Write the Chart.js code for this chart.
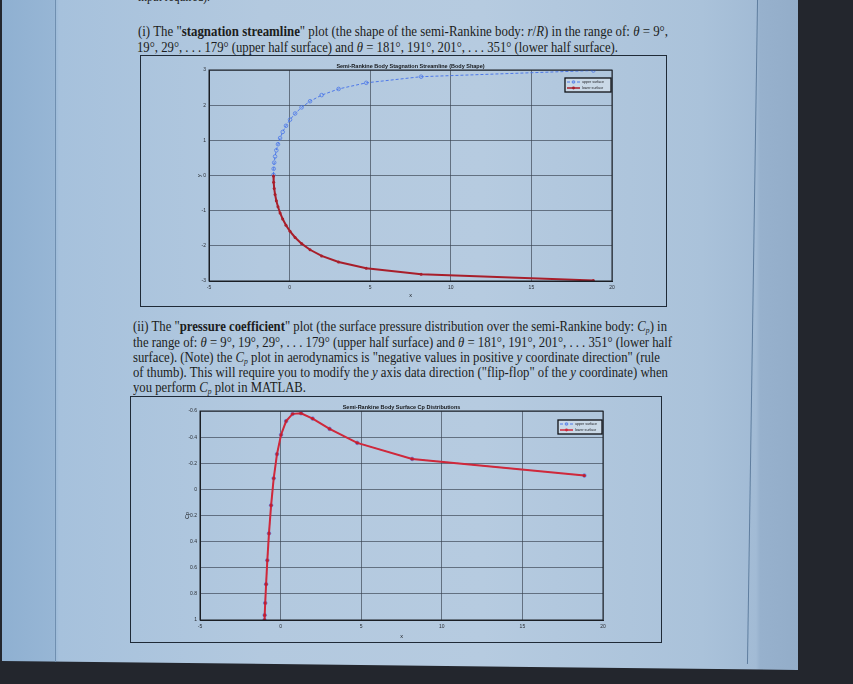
<!DOCTYPE html>
<html><head><meta charset="utf-8">
<script src="https://cdn.jsdelivr.net/npm/chart.js@4.4.1/dist/chart.umd.min.js"></script>
<style>
html,body{margin:0;padding:0;width:853px;height:684px;overflow:hidden;background:#23262d;}
#page{position:absolute;left:2px;top:0;width:796px;height:672px;
 background:linear-gradient(90deg,#8fb0d1 0px,#97b6d5 52px,#a6c1dc 57px,#b3c9df 260px,#b6cbe0 480px,#aac2da 700px,#a2bbd5 754px,#97b1cd 758px,#93adc9 796px);
 clip-path:polygon(0 0,796px 0,796px 670px,0 661px);}
#vl1{position:absolute;left:55px;top:0;width:1px;height:662px;background:#6f8fb0;}
#vl2{position:absolute;left:752px;top:0;width:1px;height:664px;background:#5f7e9f;transform:rotate(0.87deg);}
.ln{position:absolute;white-space:nowrap;font-family:"Liberation Serif","Times New Roman",serif;font-size:15px;line-height:18px;color:#1c1d20;transform-origin:left center;}
.ln sub{font-size:9px;vertical-align:-2px;line-height:0;}
.frame{position:absolute;border:1.5px solid #1f2a37;box-sizing:border-box;}
canvas{position:absolute;}
</style></head><body>
<div id="page"></div>
<div id="vl1"></div><div id="vl2"></div>
<div class="ln" style="left:138px;top:-13px;" data-w="72">input required).</div>
<div class="ln" style="left:138px;top:22px;" data-w="530">(i) The "<b>stagnation streamline</b>" plot (the shape of the semi-Rankine body: <i>r</i>/<i>R</i>) in the range of: <i>θ</i> = 9°,</div>
<div class="ln" style="left:137px;top:38px;" data-w="481">19°, 29°, . . . 179° (upper half surface) and <i>θ</i> = 181°, 191°, 201°, . . . 351° (lower half surface).</div>
<div class="ln" style="left:133px;top:317px;" data-w="534">(ii) The "<b>pressure coefficient</b>" plot (the surface pressure distribution over the semi-Rankine body: <i>C<sub>p</sub></i>) in</div>
<div class="ln" style="left:133px;top:333px;" data-w="539">the range of: <i>θ</i> = 9°, 19°, 29°, . . . 179° (upper half surface) and <i>θ</i> = 181°, 191°, 201°, . . . 351° (lower half</div>
<div class="ln" style="left:133px;top:348px;" data-w="527">surface). (Note) the <i>C<sub>p</sub></i> plot in aerodynamics is "negative values in positive <i>y</i> coordinate direction" (rule</div>
<div class="ln" style="left:133px;top:363px;" data-w="535">of thumb). This will require you to modify the <i>y</i> axis data direction ("flip-flop" of the <i>y</i> coordinate) when</div>
<div class="ln" style="left:133px;top:378px;" data-w="173">you perform <i>C<sub>p</sub></i> plot in MATLAB.</div>

<canvas id="c1" width="527" height="252" style="left:140px;top:55px;"></canvas>
<div class="frame" style="left:140px;top:55px;width:527px;height:252px;"></div>
<canvas id="c2" width="532" height="247" style="left:130px;top:396px;"></canvas>
<div class="frame" style="left:130px;top:396px;width:532px;height:247px;"></div>

<script>
// ---- data (theta = 9..179 upper, 181..351 lower) ----
const upperX = [18.844, 8.161, 4.754, 3.039, 1.988, 1.269, 0.744, 0.343, 0.028, -0.224, -0.427, -0.590, -0.721, -0.823, -0.900, -0.955, -0.988, -1.000];
const upperY = [2.985, 2.810, 2.635, 2.461, 2.286, 2.112, 1.937, 1.763, 1.588, 1.414, 1.239, 1.065, 0.890, 0.716, 0.541, 0.367, 0.192, 0.017];
const lowerX = [-1.000, -0.988, -0.955, -0.900, -0.823, -0.721, -0.590, -0.427, -0.224, 0.028, 0.343, 0.744, 1.269, 1.988, 3.039, 4.754, 8.161, 18.844];
const lowerY = [-0.017, -0.192, -0.367, -0.541, -0.716, -0.890, -1.065, -1.239, -1.414, -1.588, -1.763, -1.937, -2.112, -2.286, -2.461, -2.635, -2.810, -2.985];
const cpUpper = [-0.106, -0.233, -0.356, -0.463, -0.542, -0.583, -0.578, -0.523, -0.418, -0.270, -0.085, 0.122, 0.337, 0.543, 0.726, 0.870, 0.963, 1.000];
const cpLower = [1.000, 0.963, 0.870, 0.726, 0.543, 0.337, 0.122, -0.085, -0.270, -0.418, -0.523, -0.578, -0.583, -0.542, -0.463, -0.356, -0.233, -0.106];
const xTicks = [-5, 0, 5, 10, 15, 20];
const xTickLabels = ['-5', '0', '5', '10', '15', '20'];
const yTicks1 = [-3, -2, -1, 0, 1, 2, 3];
const yTickLabels1 = ['-3', '-2', '-1', '0', '1', '2', '3'];
const yTicks2 = [-0.6, -0.4, -0.2, 0, 0.2, 0.4, 0.6, 0.8, 1];
const yTickLabels2 = ['-0.6', '-0.4', '-0.2', '0', '0.2', '0.4', '0.6', '0.8', '1'];
const seriesNames = ['upper surface', 'lower surface'];
const title1 = 'Semi-Rankine Body Stagnation Streamline (Body Shape)';
const title2 = 'Semi-Rankine Body Surface Cp Distributions';

// fit text lines
document.querySelectorAll('.ln').forEach(el => {
  const w = +el.dataset.w; const cw = el.getBoundingClientRect().width;
  el.style.transform = 'scaleX(' + (w / cw) + ')';
});

const FONT = '"Liberation Sans", Arial, sans-serif';
const deco = {
  id: 'deco',
  afterDatasetsDraw(chart, args, o) {
    const { ctx, chartArea: a } = chart;
    ctx.save();
    ctx.strokeStyle = '#1b1f25'; ctx.lineWidth = 1;
    ctx.strokeRect(a.left, a.top, a.right - a.left, a.bottom - a.top);
    ctx.fillStyle = '#141619'; ctx.textAlign = 'center';
    ctx.font = 'bold 5.5px ' + FONT; ctx.textBaseline = 'bottom';
    ctx.fillText(o.title, (a.left + a.right) / 2, a.top - 1);
    ctx.font = '5.5px ' + FONT; ctx.textBaseline = 'middle';
    ctx.fillText(o.xlabel, (a.left + a.right) / 2, a.bottom + o.xdy);
    ctx.save();
    ctx.translate(a.left + o.ydx, (a.top + a.bottom) / 2); ctx.rotate(-Math.PI / 2);
    ctx.fillText(o.ylabel, 0, 0);
    ctx.restore();
    // legend
    const w = o.lw, h = 14, x0 = a.right - w - 1, y0 = a.top + o.ldy;
    ctx.fillStyle = 'rgba(205,218,232,0.9)'; ctx.fillRect(x0, y0, w, h);
    ctx.strokeStyle = '#0e1014'; ctx.lineWidth = 1.3; ctx.strokeRect(x0, y0, w, h);
    chart.data.datasets.forEach((ds, i) => {
      const yy = y0 + 4 + i * 6;
      ctx.save();
      ctx.strokeStyle = ds.borderColor; ctx.lineWidth = Math.min(ds.borderWidth, 1.5);
      ctx.setLineDash(ds.borderDash || []);
      ctx.beginPath(); ctx.moveTo(x0 + 2, yy); ctx.lineTo(x0 + 15, yy); ctx.stroke();
      ctx.setLineDash([]);
      ctx.beginPath(); ctx.arc(x0 + 8.5, yy, 1.4, 0, Math.PI * 2);
      if (i === 0) { ctx.lineWidth = 0.7; ctx.stroke(); } else { ctx.fillStyle = ds.borderColor; ctx.fill(); }
      ctx.restore();
      ctx.fillStyle = '#1a1c20'; ctx.font = '3.6px ' + FONT; ctx.textAlign = 'left'; ctx.textBaseline = 'middle';
      ctx.fillText(ds.label, x0 + 17, yy);
    });
    ctx.restore();
  }
};

function axis(ticks, labels, min, max, fit, isX, reverse) {
  return {
    type: 'linear', min, max, reverse: !!reverse,
    afterBuildTicks: s => { s.ticks = ticks.map(v => ({ value: v })); },
    ticks: { font: { size: 5, family: FONT }, color: '#2a2d33', padding: isX ? 4 : 3, maxRotation: 0, autoSkip: false,
      callback: (v) => { const k = ticks.findIndex(t => Math.abs(t - v) < 1e-9); return k >= 0 ? labels[k] : ''; } },
    grid: { color: 'rgba(55,65,78,0.65)', lineWidth: 1, drawTicks: false },
    border: { color: '#1b1f25', width: 1 },
    afterFit: s => { if (isX) s.height = fit; else s.width = fit; }
  };
}

function pts(xs, ys) { return xs.map((x, i) => ({ x, y: ys[i] })); }

new Chart(document.getElementById('c1'), {
  type: 'scatter',
  data: { datasets: [
    { label: seriesNames[0], data: pts(upperX, upperY), showLine: true, borderColor: '#4d78e8', borderDash: [3, 2], borderWidth: 1,
      pointStyle: 'circle', pointRadius: 1.8, pointBorderColor: '#4d78e8', pointBackgroundColor: 'rgba(0,0,0,0)', pointBorderWidth: 0.8, order: 2 },
    { label: seriesNames[1], data: pts(lowerX, lowerY), showLine: true, borderColor: '#a81e2a', borderWidth: 2,
      pointStyle: 'circle', pointRadius: 1.5, pointBorderWidth: 0, pointBackgroundColor: '#a81e2a', order: 1 }
  ] },
  options: {
    responsive: false, animation: false, devicePixelRatio: 1,
    layout: { padding: { left: 0, right: 55, top: 15, bottom: 0 } },
    plugins: { legend: { display: false }, tooltip: { enabled: false },
      deco: { title: title1, xlabel: 'x', ylabel: 'y', xdy: 14, ydx: -10, lw: 46, ldy: 8 } },
    scales: { x: axis(xTicks, xTickLabels, -5, 20, 26, true), y: axis(yTicks1, yTickLabels1, -3, 3, 69, false) }
  },
  plugins: [deco]
});

new Chart(document.getElementById('c2'), {
  type: 'scatter',
  data: { datasets: [
    { label: seriesNames[0], data: pts(upperX, cpUpper), showLine: true, borderColor: '#4d78e8', borderDash: [3, 2], borderWidth: 1,
      pointStyle: 'circle', pointRadius: 1.8, pointBorderColor: '#4d78e8', pointBackgroundColor: 'rgba(0,0,0,0)', pointBorderWidth: 0.8, order: 2 },
    { label: seriesNames[1], data: pts(lowerX, cpLower), showLine: true, borderColor: '#d0283a', borderWidth: 2,
      pointStyle: 'circle', pointRadius: 1.6, pointBorderWidth: 0, pointBackgroundColor: '#c01f30', order: 1 }
  ] },
  options: {
    responsive: false, animation: false, devicePixelRatio: 1,
    layout: { padding: { left: 0, right: 59, top: 15, bottom: 0 } },
    plugins: { legend: { display: false }, tooltip: { enabled: false },
      deco: { title: title2, xlabel: 'x', ylabel: 'Cp', xdy: 16, ydx: -13, lw: 44, ldy: 9 } },
    scales: { x: axis(xTicks, xTickLabels, -5, 20, 23, true), y: axis(yTicks2, yTickLabels2, -0.6, 1, 70, false, true) }
  },
  plugins: [deco]
});
</script>
</body></html>
